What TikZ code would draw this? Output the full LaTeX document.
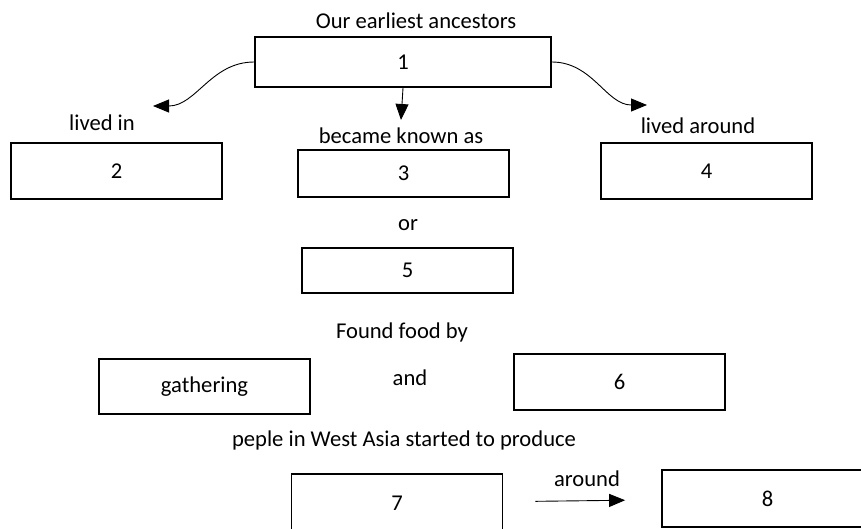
\documentclass[tikz,border=0pt]{standalone}
\usepackage{fontspec}
\setmainfont{Carlito}
\usetikzlibrary{arrows.meta}

\begin{document}
\begin{tikzpicture}[x=1pt,y=-1pt,
    box/.style={draw,line width=1.8pt,minimum width=211pt,minimum height=50pt,inner sep=0pt},
    lbl/.style={inner sep=0pt},
    tip/.style={-{Triangle[length=16pt,width=13pt]},line width=0.9pt},
    font=\fontsize{22.6}{27}\selectfont]

            \useasboundingbox (0,0) rectangle (861,528);
            \clip (0,0) rectangle (861,528);

            \node[box,minimum width=296pt] (n1) at (403,62) {1};
            \node[box,minimum height=56pt] (n2) at (116.5,171) {2};
            \node[box,minimum height=47pt] (n3) at (403.5,173.5) {3};
            \node[box,minimum height=56pt] (n4) at (706.5,171) {4};
            \node[box,minimum height=45pt] (n5) at (407.5,270.5) {5};
            \node[box,minimum height=55pt] (gath) at (204.5,386.5) {gathering};
            \node[box,minimum height=56pt] (n6) at (619.5,382) {6};
            \node[box,minimum height=58pt] (n7) at (397,503) {7};
            \node[box,minimum height=57pt] (n8) at (767.5,498.5) {8};

            \node[lbl] (anc) at (416,21) {Our earliest ancestors};
            \node[lbl] (livin) at (102,123) {lived in};
            \node[lbl] (known) at (401,136) {became known as};
            \node[lbl] (livar) at (698,126) {lived around};
            \node[lbl] (or) at (408,225) {or};
            \node[lbl] (food) at (402,332) {Found food by};
            \node[lbl] (and) at (410,378) {and};
            \node[lbl] (prod) at (404,440) {peple in West Asia started to produce};
            \node[lbl] (arnd) at (587,479) {around};

            \coordinate (tipin) at (153,106);
            \coordinate (tipar) at (647,105);
            \coordinate (tipkn) at (401,120);

            \draw[tip] (n1.west) to[out=180,in=0] (tipin);
            \draw[tip] (n1.east) to[out=0,in=180] (tipar);
            \draw[tip] (n1.south) -- (tipkn);
            \draw[tip,shorten <=32pt,shorten >=36pt] (n7) -- (n8);
        \end{tikzpicture}
\end{document}
